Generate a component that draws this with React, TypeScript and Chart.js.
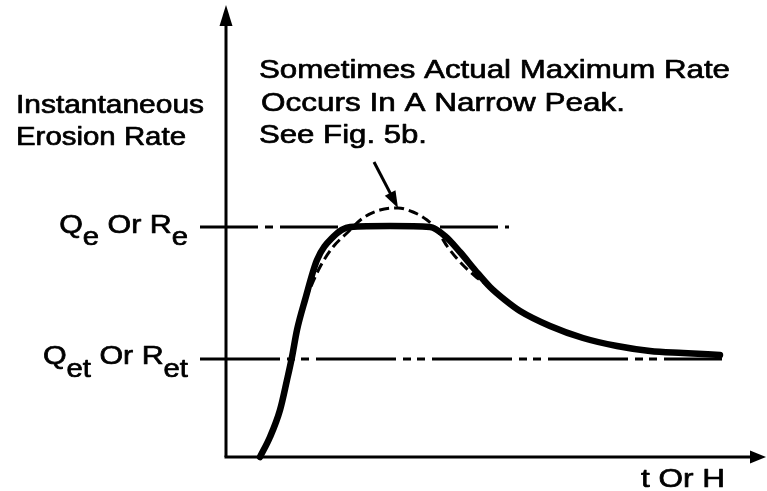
import React, { useEffect, useRef } from "react";
import { Chart, registerables } from "chart.js";

Chart.register(...registerables);

// Scale limits (data units: time / rate, arbitrary)
const X_LIMITS = [-4.52, 10.82];
const Y_LIMITS = [-0.68, 9.14];

// Axis extents
const X_AXIS_END = 10.8;
const Y_AXIS_END = 9.0;

// Reference levels
const QE_LEVEL = 4.6;
const QET_LEVEL = 1.96;
const QE_SPAN = [-0.52, 5.66];
const QET_SPAN = [-0.52, 9.92];

// Actual (solid) erosion-rate curve
const solidT = [0.68, 0.88, 1.08, 1.22, 1.32, 1.42, 1.58, 1.82, 2.14, 2.48, 3.28, 4.08, 4.38, 4.68, 4.98, 5.28, 5.58, 5.88, 6.48, 7.14, 7.82, 8.48, 9.14, 9.88];
const solidR = [0.0, 0.4, 0.94, 1.54, 2.0, 2.54, 3.14, 3.94, 4.4, 4.6, 4.62, 4.6, 4.42, 4.1, 3.74, 3.4, 3.14, 2.92, 2.62, 2.38, 2.22, 2.12, 2.08, 2.04];

// Narrow-peak (dashed) curve
const dashedT = [1.58, 1.88, 2.14, 2.42, 2.74, 3.08, 3.44, 3.74, 4.02, 4.22, 4.42, 4.68, 4.98, 5.28];
const dashedR = [3.14, 3.8, 4.2, 4.48, 4.78, 4.94, 4.98, 4.9, 4.74, 4.54, 4.22, 3.9, 3.62, 3.4];

// Annotation arrow (from, to) in data units
const NOTE_ARROW_FROM = [2.96, 5.9];
const NOTE_ARROW_TO = [3.44, 4.98];

// Texts
const yTitleLines = ["Instantaneous", "Erosion Rate"];
const noteLines = ["Sometimes Actual Maximum Rate", "Occurs In A Narrow Peak.", "See Fig. 5b."];
const xTitle = "t Or H";
const qeLabel: [string, boolean][] = [["Q", false], ["e", true], [" Or ", false], ["R", false], ["e", true]];
const qetLabel: [string, boolean][] = [["Q", false], ["et", true], [" Or ", false], ["R", false], ["et", true]];

const FONT = '"Liberation Sans", Arial, Helvetica, sans-serif';
const TEXT_STROKE = 0.8;

function pts(xs: number[], ys: number[]) {
  return xs.map((x, i) => ({ x, y: ys[i] }));
}

function paintText(ctx: CanvasRenderingContext2D, text: string, sx: number) {
  ctx.scale(sx, 1);
  ctx.textAlign = "left";
  ctx.textBaseline = "alphabetic";
  ctx.lineWidth = TEXT_STROKE / sx;
  ctx.lineJoin = "round";
  ctx.fillText(text, 0, 0);
  ctx.strokeText(text, 0, 0);
}

function drawFit(ctx: CanvasRenderingContext2D, text: string, x: number, baseline: number, targetW: number) {
  const w = ctx.measureText(text).width;
  ctx.save();
  ctx.translate(x, baseline);
  paintText(ctx, text, targetW / w);
  ctx.restore();
}

function drawRich(ctx: CanvasRenderingContext2D, segs: [string, boolean][], right: number, baseline: number, sx: number, subDy: number) {
  const mainFont = `26px ${FONT}`;
  const subFont = `25px ${FONT}`;
  const widths = segs.map(([t, sub]) => {
    ctx.font = sub ? subFont : mainFont;
    return ctx.measureText(t).width * sx;
  });
  const total = widths.reduce((a, b) => a + b, 0);
  let x = right - total;
  segs.forEach(([t, sub], i) => {
    ctx.font = sub ? subFont : mainFont;
    ctx.save();
    ctx.translate(x, baseline + (sub ? subDy : 0));
    paintText(ctx, t, sx);
    ctx.restore();
    x += widths[i];
  });
}

function arrowHead(ctx: CanvasRenderingContext2D, tipX: number, tipY: number, angle: number, len: number, half: number) {
  ctx.save();
  ctx.translate(tipX, tipY);
  ctx.rotate(angle);
  ctx.beginPath();
  ctx.moveTo(0, 0);
  ctx.lineTo(-len, -half);
  ctx.lineTo(-len, half);
  ctx.closePath();
  ctx.fill();
  ctx.restore();
}

const overlay = {
  id: "overlay",
  beforeDraw(chart: any) {
    const { ctx, width, height } = chart;
    ctx.save();
    ctx.fillStyle = "#ffffff";
    ctx.fillRect(0, 0, width, height);
    ctx.restore();
  },
  afterDatasetsDraw(chart: any) {
    const ctx: CanvasRenderingContext2D = chart.ctx;
    const xs = chart.scales.x;
    const ys = chart.scales.y;
    const px = (v: number) => xs.getPixelForValue(v);
    const py = (v: number) => ys.getPixelForValue(v);
    ctx.save();
    ctx.fillStyle = "#000";
    ctx.strokeStyle = "#000";

    // axis arrowheads
    arrowHead(ctx, px(0), py(Y_AXIS_END) - 2, -Math.PI / 2, 21, 6.5);
    arrowHead(ctx, px(X_AXIS_END), py(0), 0, 16, 6.5);

    // note arrow
    const fx = px(NOTE_ARROW_FROM[0]), fy = py(NOTE_ARROW_FROM[1]);
    const tx = px(NOTE_ARROW_TO[0]), ty = py(NOTE_ARROW_TO[1]);
    const ang = Math.atan2(ty - fy, tx - fx);
    ctx.lineWidth = 3;
    ctx.beginPath();
    ctx.moveTo(fx, fy);
    ctx.lineTo(tx - Math.cos(ang) * 12, ty - Math.sin(ang) * 12);
    ctx.stroke();
    arrowHead(ctx, tx, ty, ang, 17, 6);

    // texts
    ctx.font = `26px ${FONT}`;
    drawFit(ctx, yTitleLines[0], 16, 113, 188);
    drawFit(ctx, yTitleLines[1], 16, 145, 170);
    drawFit(ctx, noteLines[0], 259, 78, 471);
    drawFit(ctx, noteLines[1], 261, 111, 364);
    drawFit(ctx, noteLines[2], 259, 143, 168);
    drawFit(ctx, xTitle, 641, 487, 84);
    drawRich(ctx, qeLabel, 188, 233, 1.17, 12);
    drawRich(ctx, qetLabel, 188, 364, 1.17, 13);
    ctx.restore();
  },
};

export default function App() {
  const ref = useRef<HTMLCanvasElement | null>(null);
  useEffect(() => {
    if (!ref.current) return;
    const black = "#000000";
    const chart = new Chart(ref.current, {
      type: "scatter",
      data: {
        datasets: [
          {
            label: "y axis",
            data: pts([0, 0], [0, Y_AXIS_END - 0.3]),
            showLine: true,
            borderColor: black,
            borderWidth: 3,
            pointRadius: 0,
          },
          {
            label: "x axis",
            data: pts([-0.03, X_AXIS_END - 0.25], [0, 0]),
            showLine: true,
            borderColor: black,
            borderWidth: 3,
            pointRadius: 0,
          },
          {
            label: "Qe",
            data: pts(QE_SPAN, [QE_LEVEL, QE_LEVEL]),
            showLine: true,
            borderColor: black,
            borderWidth: 3,
            borderDash: [58, 7, 8, 7],
            pointRadius: 0,
          },
          {
            label: "Qet",
            data: pts(QET_SPAN, [QET_LEVEL, QET_LEVEL]),
            showLine: true,
            borderColor: black,
            borderWidth: 3,
            borderDash: [80, 7, 8, 6, 8, 7],
            pointRadius: 0,
          },
          {
            label: "narrow peak",
            data: pts(dashedT, dashedR),
            showLine: true,
            borderColor: black,
            borderWidth: 3,
            borderDash: [10, 5],
            cubicInterpolationMode: "monotone",
            pointRadius: 0,
          },
          {
            label: "erosion rate",
            data: pts(solidT, solidR),
            showLine: true,
            borderColor: black,
            borderWidth: 6.5,
            borderCapStyle: "round",
            borderJoinStyle: "round",
            cubicInterpolationMode: "monotone",
            pointRadius: 0,
          },
        ],
      },
      options: {
        animation: false,
        responsive: false,
        layout: { padding: 0 },
        plugins: { legend: { display: false }, tooltip: { enabled: false }, title: { display: false } },
        scales: {
          x: { type: "linear", display: false, min: X_LIMITS[0], max: X_LIMITS[1] },
          y: { type: "linear", display: false, min: Y_LIMITS[0], max: Y_LIMITS[1] },
        },
      } as any,
      plugins: [overlay],
    });
    return () => chart.destroy();
  }, []);
  return (
    <div style={{ position: "fixed", left: 0, top: 0, width: 767, height: 491, background: "#fff" }}>
      <canvas ref={ref} width={767} height={491} style={{ display: "block" }} />
    </div>
  );
}
